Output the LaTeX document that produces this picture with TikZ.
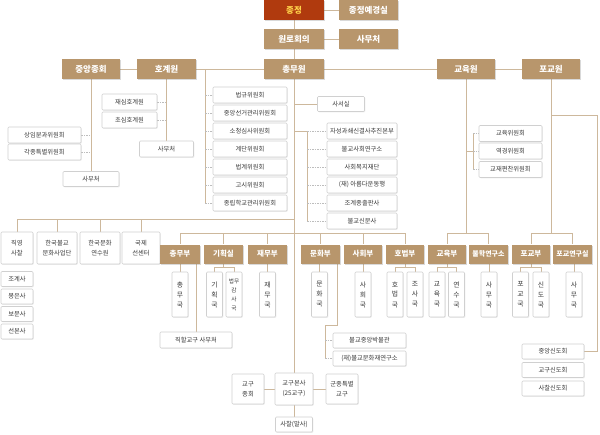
\documentclass[tikz,border=0pt]{standalone}
\usepackage{fontspec}
\setmainfont{Noto Sans CJK KR}
\usetikzlibrary{backgrounds,shadows}
\definecolor{hdrc}{HTML}{B8966C}
\definecolor{redc}{HTML}{B03A0E}
\definecolor{yelc}{HTML}{FFD24A}
\definecolor{linec}{HTML}{CDB89C}
\definecolor{tickc}{HTML}{BDBDBD}
\definecolor{boxb}{HTML}{D0D0D0}
\definecolor{txtc}{HTML}{3A3A3A}
\begin{document}
\begin{tikzpicture}[x=1pt,y=-1pt,
 hdr/.style={rectangle,fill=hdrc,text=white,font=\fontsize{8.5}{9}\selectfont\bfseries,minimum height=20pt,inner sep=0pt,drop shadow={opacity=0.3,shadow xshift=1pt,shadow yshift=-1pt}},
 dept/.style={hdr,font=\fontsize{7.5}{8}\selectfont\bfseries,minimum height=19pt},
 wbox/.style={rectangle,draw=boxb,line width=0.6pt,fill=white,text=txtc,font=\fontsize{6.3}{7}\selectfont,minimum height=16pt,inner sep=0pt,rounded corners=1pt,align=center,drop shadow={opacity=0.15,shadow xshift=0.8pt,shadow yshift=-0.8pt}},
 tbox/.style={wbox,font=\fontsize{6.3}{10}\selectfont,minimum height=32pt},
 vbox/.style={wbox,minimum width=16pt,minimum height=45pt,font=\fontsize{6.8}{10}\selectfont},
 ln/.style={draw=linec,line width=0.8pt},
 tk/.style={draw=tickc,line width=0.6pt,dash pattern=on 1.5pt off 1pt}]
\useasboundingbox (0,0) rectangle (600,434);
% top
\node[hdr,fill=redc,text=yelc,minimum width=60pt] (jj) at (294,10) {종정};
\node[hdr,minimum width=59pt] (jjy) at (368.5,10) {종정예경실};
\node[hdr,minimum width=60pt] (wr) at (294,39) {원로회의};
\node[hdr,minimum width=59pt] (wrs) at (368.5,39) {사무처};
\node[hdr,minimum width=58pt] (jh) at (91,69) {중앙종회};
\node[hdr,minimum width=59pt] (hg) at (166.5,69) {호계원};
\node[hdr,minimum width=60pt] (cm) at (294,69) {총무원};
\node[hdr,minimum width=58pt] (gy) at (466,69) {교육원};
\node[hdr,minimum width=58pt] (pg) at (551,69) {포교원};
% jungang jonghoe
\node[wbox,minimum width=73pt] (jh1) at (44.5,135) {상임분과위원회};
\node[wbox,minimum width=73pt] (jh2) at (44.5,152) {각종특별위원회};
\node[wbox,minimum width=56pt,minimum height=15pt] (jhs) at (91,179) {사무처};
% hogyewon
\node[wbox,minimum width=55pt] (hg1) at (129.5,102) {재심호계원};
\node[wbox,minimum width=55pt] (hg2) at (129.5,120) {초심호계원};
\node[wbox,minimum width=54pt] (hgs) at (166.5,149) {사무처};
% chongmuwon committees
\node[wbox,minimum width=74pt] (c1) at (250,95) {법규위원회};
\node[wbox,minimum width=74pt] (c2) at (250,113) {중앙선거관리위원회};
\node[wbox,minimum width=74pt] (c3) at (250,131) {소청심사위원회};
\node[wbox,minimum width=74pt] (c4) at (250,149) {계단위원회};
\node[wbox,minimum width=74pt] (c5) at (250,167) {법계위원회};
\node[wbox,minimum width=74pt] (c6) at (250,185) {고시위원회};
\node[wbox,minimum width=74pt] (c7) at (250,203) {종립학교관리위원회};
\node[wbox,minimum width=47pt,minimum height=15pt] (ss) at (341,104) {사서실};
\node[wbox,minimum width=70pt] (r1) at (362,131) {자성과쇄신결사추진본부};
\node[wbox,minimum width=70pt] (r2) at (362,149) {불교사회연구소};
\node[wbox,minimum width=70pt] (r3) at (362,167) {사회복지재단};
\node[wbox,minimum width=70pt] (r4) at (362,185) {(재) 아름다운동행};
\node[wbox,minimum width=70pt] (r5) at (362,203) {조계종출판사};
\node[wbox,minimum width=70pt] (r6) at (362,221) {불교신문사};
% education committees
\node[wbox,minimum width=63pt] (e1) at (510.5,133.5) {교육위원회};
\node[wbox,minimum width=63pt] (e2) at (510.5,151) {역경위원회};
\node[wbox,minimum width=63pt] (e3) at (510.5,169.5) {교재편찬위원회};
% upper group
\node[tbox,minimum width=32pt] (d1) at (17,248) {직영\\사찰};
\node[tbox,minimum width=40pt] (d2) at (57,248) {한국불교\\문화사업단};
\node[tbox,minimum width=40pt] (d3) at (100,248) {한국문화\\연수원};
\node[tbox,minimum width=38pt] (d4) at (141,248) {국제\\선센터};
\node[wbox,minimum width=32pt,minimum height=15pt] (t1) at (17,279) {조계사};
\node[wbox,minimum width=32pt,minimum height=15pt] (t2) at (17,296.5) {봉은사};
\node[wbox,minimum width=32pt,minimum height=15pt] (t3) at (17,314) {보문사};
\node[wbox,minimum width=32pt,minimum height=15pt] (t4) at (17,331.5) {선본사};
% departments
\node[dept,minimum width=40pt] (p1) at (180,254) {총무부};
\node[dept,minimum width=39pt] (p2) at (223.5,254) {기획실};
\node[dept,minimum width=39pt] (p3) at (267.5,254) {재무부};
\node[dept,minimum width=39pt] (p4) at (320.5,254) {문화부};
\node[dept,minimum width=38pt] (p5) at (363,254) {사회부};
\node[dept,minimum width=38pt] (p6) at (405,254) {호법부};
\node[dept,minimum width=38pt] (p7) at (447,254) {교육부};
\node[dept,minimum width=39pt,font=\fontsize{7}{8}\selectfont\bfseries] (p8) at (488.5,254) {불학연구소};
\node[dept,minimum width=38pt] (p9) at (531,254) {포교부};
\node[dept,minimum width=39pt,font=\fontsize{7}{8}\selectfont\bfseries] (p10) at (572.5,254) {포교연구실};
% bureaus
\node[vbox] (v1) at (180,294.5) {총\\무\\국};
\node[vbox] (v2) at (214.5,294.5) {기\\획\\국};
\node[vbox,font=\fontsize{5.6}{9}\selectfont] (v3) at (234,294.5) {법무\\감\\사\\국};
\node[vbox] (v4) at (267.5,294.5) {재\\무\\국};
\node[vbox] (v5) at (319.5,294.5) {문\\화\\국};
\node[vbox] (v6) at (363,294.5) {사\\회\\국};
\node[vbox] (v7) at (395,294.5) {호\\법\\국};
\node[vbox] (v8) at (415,294.5) {조\\사\\국};
\node[vbox] (v9) at (437,294.5) {교\\육\\국};
\node[vbox] (v10) at (456.5,294.5) {연\\수\\국};
\node[vbox] (v11) at (489,294.5) {사\\무\\국};
\node[vbox] (v12) at (520.5,294.5) {포\\교\\국};
\node[vbox] (v13) at (541,294.5) {신\\도\\국};
\node[vbox] (v14) at (574,294.5) {사\\무\\국};
% lower
\node[wbox,minimum width=72pt] (jg) at (196,340) {직할교구 사무처};
\node[wbox,minimum width=73pt,minimum height=15pt] (m1) at (369.5,340.5) {불교중앙박물관};
\node[wbox,minimum width=73pt,minimum height=15pt] (m2) at (369.5,358.5) {(재)불교문화재연구소};
\node[tbox,minimum width=32pt,minimum height=30pt] (gjh) at (248,389) {교구\\종회};
\node[tbox,minimum width=38pt] (gbs) at (294,389) {교구본사\\(25교구)};
\node[tbox,minimum width=32pt,minimum height=30pt] (gjt) at (342,389) {군종특별\\교구};
\node[wbox,minimum width=37pt,minimum height=15pt] (sc) at (294,424.5) {사찰(말사)};
\node[wbox,minimum width=62pt,minimum height=15pt] (sd1) at (553,351.5) {중앙신도회};
\node[wbox,minimum width=62pt,minimum height=15pt] (sd2) at (553,370) {교구신도회};
\node[wbox,minimum width=62pt,minimum height=15pt] (sd3) at (553,388.5) {사찰신도회};
% coordinates
\coordinate (bL) at (205,69);
\coordinate (bR) at (307,131);
\coordinate (ub) at (0,219);
\coordinate (db) at (0,233);
\coordinate (sb) at (0,267);
\coordinate (eb) at (473,151);
\coordinate (sdc) at (597,115);
\coordinate (mb) at (337,325);
\coordinate (mbx) at (325,325);
\begin{pgfonlayer}{background}
\draw[ln] (jj) -- (jjy);
\draw[ln] (wr) -- (wrs);
\draw[ln] (jj.south) -- (gbs.north);
\draw[ln] (jh.east) -- (pg.west);
\draw[ln] (jh.south) -- (jhs.north);
\foreach \n in {jh1,jh2} \draw[tk] (\n.east) -- (\n.east -| jh.south);
\draw[ln] (hg.south) -- (hgs.north);
\foreach \n in {hg1,hg2} \draw[tk] (\n.east) -- (\n.east -| hg.south);
\draw[ln] (bL) -- (bL |- c7.west);
\foreach \n in {c1,c2,c3,c4,c5,c6,c7} \draw[tk] (\n.west -| bL) -- (\n.west);
\draw[ln] (ss.west -| cm.south) -- (ss.west);
\draw[ln] (bR -| cm.south) -- (bR) -- (bR |- r6.west);
\foreach \n in {r1,r2,r3,r4,r5,r6} \draw[tk] (\n.west -| bR) -- (\n.west);
\draw[ln] (eb -| gy.south) -- (eb);
\draw[ln] (eb |- e1.west) -- (eb |- e3.west);
\foreach \n in {e1,e2,e3} \draw[tk] (\n.west -| eb) -- (\n.west);
\draw[ln] (d1.north |- ub) -- (ub -| cm.south);
\foreach \n in {d1,d2,d3,d4} \draw[ln] (\n.north |- ub) -- (\n.north);
\draw[ln] (p1.north |- db) -- (p6.north |- db);
\foreach \n in {p1,p2,p3,p4,p5,p6} \draw[ln] (\n.north |- db) -- (\n.north);
\draw[ln] (gy.south) -- (gy.south |- db);
\draw[ln] (p7.north |- db) -- (p8.north |- db);
\foreach \n in {p7,p8} \draw[ln] (\n.north |- db) -- (\n.north);
\draw[ln] (pg.south) -- (pg.south |- db);
\draw[ln] (p9.north |- db) -- (p10.north |- db);
\foreach \n in {p9,p10} \draw[ln] (\n.north |- db) -- (\n.north);
\draw[ln] (pg.south |- sdc) -- (sdc) -- (sdc |- sd1.east) -- (sd1.east);
% bureaus
\draw[ln] (v1.north |- p1.south) -- (v1.north);
\draw[ln] (p2.south) -- (p2.south |- sb);
\draw[ln] (v2.north |- sb) -- (v3.north |- sb);
\foreach \n in {v2,v3} \draw[ln] (\n.north |- sb) -- (\n.north);
\draw[ln] (v4.north |- p3.south) -- (v4.north);
\draw[ln] (v5.north |- p4.south) -- (v5.north);
\draw[ln] (v6.north |- p5.south) -- (v6.north);
\draw[ln] (p6.south) -- (p6.south |- sb);
\draw[ln] (v7.north |- sb) -- (v8.north |- sb);
\foreach \n in {v7,v8} \draw[ln] (\n.north |- sb) -- (\n.north);
\draw[ln] (p7.south) -- (p7.south |- sb);
\draw[ln] (v9.north |- sb) -- (v10.north |- sb);
\foreach \n in {v9,v10} \draw[ln] (\n.north |- sb) -- (\n.north);
\draw[ln] (v11.north |- p8.south) -- (v11.north);
\draw[ln] (p9.south) -- (p9.south |- sb);
\draw[ln] (v12.north |- sb) -- (v13.north |- sb);
\foreach \n in {v12,v13} \draw[ln] (\n.north |- sb) -- (\n.north);
\draw[ln] (v14.north |- p10.south) -- (v14.north);
\draw[ln] (jg.north |- p1.south) -- (jg.north);
\draw[ln] (mb |- p4.south) -- (mb) -- (mbx) -- (mbx |- m2.west);
\foreach \n in {m1,m2} \draw[tk] (\n.west -| mbx) -- (\n.west);
\draw[ln] (gjh) -- (gbs);
\draw[ln] (gbs) -- (gjt);
\draw[ln] (gbs) -- (sc);
\end{pgfonlayer}
\end{tikzpicture}
\end{document}
